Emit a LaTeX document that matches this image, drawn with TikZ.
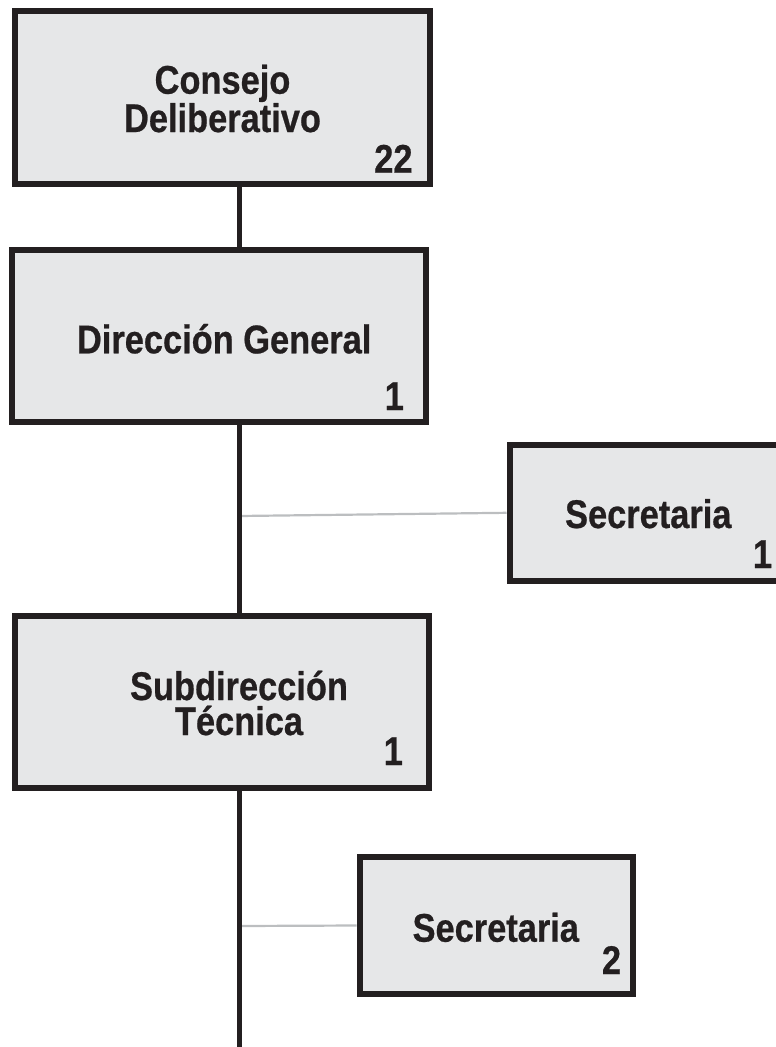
\documentclass[tikz,border=0pt]{standalone}
\usepackage{fontspec}
\newfontfamily\lblfont{Liberation Sans}[FakeStretch=0.86, BoldFeatures={FakeBold=0.6}]
\definecolor{boxfill}{HTML}{E6E7E8}
\definecolor{ink}{HTML}{231F20}
\definecolor{thin}{HTML}{BCBEC0}
\tikzset{
  unitbox/.style={rectangle, draw=ink, fill=boxfill, line width=6pt, inner sep=0pt},
  lbl/.style={anchor=base, inner sep=0pt, text=ink, align=center, font=\lblfont\bfseries\fontsize{40}{35}\selectfont},
  spineline/.style={draw=ink, line width=5pt},
  thinline/.style={draw=thin, line width=2.2pt}
}
\begin{document}
\begin{tikzpicture}[x=1pt, y=-1pt]
\useasboundingbox (0,0) rectangle (776,1047);
% boxes
\node[unitbox, minimum width=415pt, minimum height=173pt] (b1) at (222.5,97.5) {};
\node[unitbox, minimum width=414pt, minimum height=172.3pt] (b2) at (219.3,335.8) {};
\node[unitbox, minimum width=290.5pt, minimum height=136.3pt] (s1) at (654.75,512.8) {};
\node[unitbox, minimum width=414pt, minimum height=172pt] (b3) at (221.7,701.7) {};
\node[unitbox, minimum width=273.5pt, minimum height=137pt] (s2) at (496.3,925.5) {};
% labels
\node[lbl] (t1) at (222.5,132) {Consejo\\Deliberativo};
\node[lbl] (n1) at (393.4,172.7) {22};
\node[lbl] (t2) at (224.2,353.3) {Dirección General};
\node[lbl] (n2) at (394.3,410) {1};
\node[lbl] (ts1) at (648.3,528) {Secretaria};
\node[lbl] (ns1) at (762.5,568) {1};
\node[lbl] (t3) at (239,735) {Subdirección\\Técnica};
\node[lbl] (n3) at (393.3,765) {1};
\node[lbl] (ts2) at (495.8,941.7) {Secretaria};
\node[lbl] (ns2) at (611.5,974) {2};
% connectors
\coordinate (spine) at (239,0);
\coordinate (j1) at (239,516);
\coordinate (j2) at (239,926);
\coordinate (bottom) at (239,1047);
\draw[thinline] (j1) -- (s1.west);
\draw[thinline] (j2) -- (s2.west);
\draw[spineline] (b1.south -| spine) -- (b2.north -| spine);
\draw[spineline] (b2.south -| spine) -- (b3.north -| spine);
\draw[spineline] (b3.south -| spine) -- (bottom);
\end{tikzpicture}
\end{document}
